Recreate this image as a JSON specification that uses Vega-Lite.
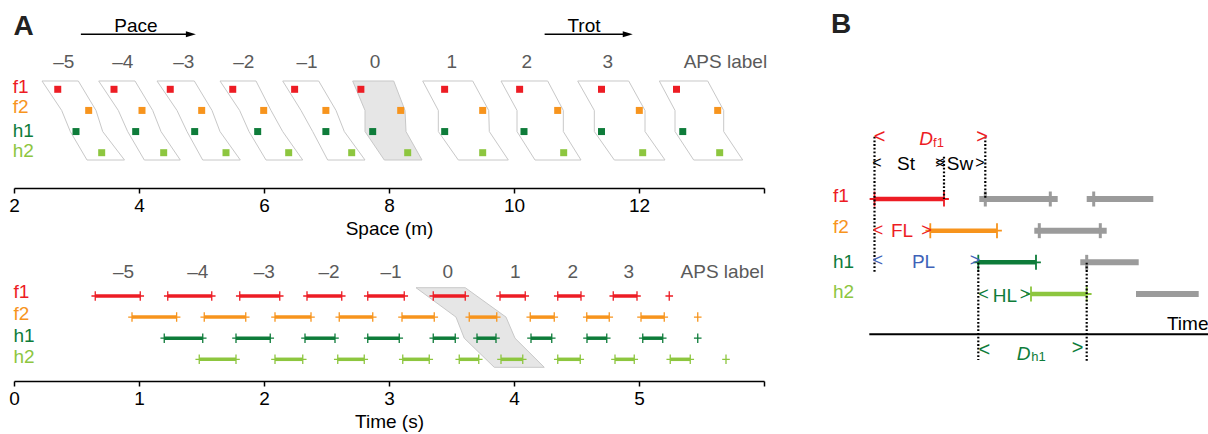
{
"$schema": "https://vega.github.io/schema/vega-lite/v6.json",
"padding": {"left": 8, "top": 0, "right": 0, "bottom": 0},
"background": "white",
"config": {"view": {"stroke": null}, "font": "Liberation Sans"},
"datasets": {
"spacePoly": [
{"stride":-5,"y":0.607,"x":2.448,"x2":3.029},{"stride":-5,"y":2,"x":2.763,"x2":3.312},{"stride":-5,"y":3,"x":2.901,"x2":3.419},{"stride":-5,"y":4.346,"x":3.168,"x2":3.768},
{"stride":-4,"y":0.607,"x":3.355,"x2":3.936},{"stride":-4,"y":2,"x":3.669,"x2":4.219},{"stride":-4,"y":3,"x":3.819,"x2":4.352},{"stride":-4,"y":4.346,"x":4.085,"x2":4.661},
{"stride":-3,"y":0.607,"x":4.288,"x2":4.885},{"stride":-3,"y":2,"x":4.608,"x2":5.168},{"stride":-3,"y":3,"x":4.768,"x2":5.296},{"stride":-3,"y":4.346,"x":5.019,"x2":5.621},
{"stride":-2,"y":0.607,"x":5.296,"x2":5.872},{"stride":-2,"y":2,"x":5.61,"x2":6.112},{"stride":-2,"y":3,"x":5.76,"x2":6.299},{"stride":-2,"y":4.346,"x":6.032,"x2":6.619},
{"stride":-1,"y":0.607,"x":6.299,"x2":6.875},{"stride":-1,"y":2,"x":6.592,"x2":7.152},{"stride":-1,"y":3,"x":6.779,"x2":7.285},{"stride":-1,"y":4.346,"x":7.019,"x2":7.616},
{"stride":0,"y":0.607,"x":7.419,"x2":8.075},{"stride":0,"y":2,"x":7.616,"x2":8.256},{"stride":0,"y":3,"x":7.616,"x2":8.272},{"stride":0,"y":4.346,"x":7.925,"x2":8.528},
{"stride":1,"y":0.607,"x":8.539,"x2":9.339},{"stride":1,"y":2,"x":8.789,"x2":9.595},{"stride":1,"y":3,"x":8.789,"x2":9.605},{"stride":1,"y":4.346,"x":9.109,"x2":9.909},
{"stride":2,"y":0.607,"x":9.792,"x2":10.539},{"stride":2,"y":2,"x":10.048,"x2":10.789},{"stride":2,"y":3,"x":10.048,"x2":10.789},{"stride":2,"y":4.346,"x":10.336,"x2":11.072},
{"stride":3,"y":0.607,"x":11.019,"x2":11.835},{"stride":3,"y":2,"x":11.285,"x2":12.096},{"stride":3,"y":3,"x":11.285,"x2":12.096},{"stride":3,"y":4.346,"x":11.605,"x2":12.416},
{"stride":4,"y":0.607,"x":12.325,"x2":13.099},{"stride":4,"y":2,"x":12.576,"x2":13.355},{"stride":4,"y":3,"x":12.576,"x2":13.355},{"stride":4,"y":4.346,"x":12.875,"x2":13.659}
],
"spaceSq": [
{"limb":"f1","y":1,"x":2.70},{"limb":"f1","y":1,"x":3.60},{"limb":"f1","y":1,"x":4.50},{"limb":"f1","y":1,"x":5.50},{"limb":"f1","y":1,"x":6.49},{"limb":"f1","y":1,"x":7.55},{"limb":"f1","y":1,"x":8.89},{"limb":"f1","y":1,"x":10.09},{"limb":"f1","y":1,"x":11.40},{"limb":"f1","y":1,"x":12.60},
{"limb":"f2","y":2,"x":3.195},{"limb":"f2","y":2,"x":4.048},{"limb":"f2","y":2,"x":5.003},{"limb":"f2","y":2,"x":5.995},{"limb":"f2","y":2,"x":6.99},{"limb":"f2","y":2,"x":8.187},{"limb":"f2","y":2,"x":9.499},{"limb":"f2","y":2,"x":10.699},{"limb":"f2","y":2,"x":12.005},{"limb":"f2","y":2,"x":13.259},
{"limb":"h1","y":3,"x":2.992},{"limb":"h1","y":3,"x":3.947},{"limb":"h1","y":3,"x":4.891},{"limb":"h1","y":3,"x":5.899},{"limb":"h1","y":3,"x":6.99},{"limb":"h1","y":3,"x":7.739},{"limb":"h1","y":3,"x":8.891},{"limb":"h1","y":3,"x":10.16},{"limb":"h1","y":3,"x":11.40},{"limb":"h1","y":3,"x":12.70},
{"limb":"h2","y":4,"x":3.403},{"limb":"h2","y":4,"x":4.395},{"limb":"h2","y":4,"x":5.392},{"limb":"h2","y":4,"x":6.395},{"limb":"h2","y":4,"x":7.403},{"limb":"h2","y":4,"x":8.299},{"limb":"h2","y":4,"x":9.499},{"limb":"h2","y":4,"x":10.795},{"limb":"h2","y":4,"x":12.059},{"limb":"h2","y":4,"x":13.291}
],
"topText": [
{"kind":"aps","label":"–5","x":2.795,"y":0.006},{"kind":"aps","label":"–4","x":3.739,"y":0.006},{"kind":"aps","label":"–3","x":4.715,"y":0.006},{"kind":"aps","label":"–2","x":5.675,"y":0.006},{"kind":"aps","label":"–1","x":6.688,"y":0.006},{"kind":"aps","label":"0","x":7.776,"y":0.006},{"kind":"aps","label":"1","x":9.003,"y":0.006},{"kind":"aps","label":"2","x":10.203,"y":0.006},{"kind":"aps","label":"3","x":11.499,"y":0.006},
{"kind":"apsTitle","label":"APS label","x":14.05,"y":0.006},
{"kind":"gait","label":"Pace","x":3.952,"y":-1.712},{"kind":"gait","label":"Trot","x":11.12,"y":-1.712},
{"kind":"panel","label":"A","x":1.99,"y":-1.57},
{"kind":"limb","limb":"f1","label":"f1","x":1.98,"y":1.19},{"kind":"limb","limb":"f2","label":"f2","x":1.98,"y":2.136},{"kind":"limb","limb":"h1","label":"h1","x":1.98,"y":3.243},{"kind":"limb","limb":"h2","label":"h2","x":1.98,"y":4.19}
],
"arrows": [
{"part":"shaft","x":3.07,"x2":4.83,"y":-1.603},{"part":"shaft","x":10.49,"x2":11.82,"y":-1.603},
{"part":"head","x":4.83,"y":-1.603},{"part":"head","x":11.82,"y":-1.603}
],
"timePoly": [
{"y":0.607,"x":3.216,"x2":3.61},{"y":2,"x":3.536,"x2":3.936},{"y":3,"x":3.602,"x2":4.008},{"y":4.379,"x":3.842,"x2":4.242}
],
"gait": [
{"limb":"f1","y":1,"x":0.650,"x2":1.010},{"limb":"f1","y":1,"x":1.230,"x2":1.582},{"limb":"f1","y":1,"x":1.806,"x2":2.126},{"limb":"f1","y":1,"x":2.344,"x2":2.622},{"limb":"f1","y":1,"x":2.830,"x2":3.122},{"limb":"f1","y":1,"x":3.354,"x2":3.610},{"limb":"f1","y":1,"x":3.888,"x2":4.090},{"limb":"f1","y":1,"x":4.350,"x2":4.536},{"limb":"f1","y":1,"x":4.794,"x2":4.984},{"limb":"f1","y":1,"x":5.242,"x2":null},
{"limb":"f2","y":2,"x":0.944,"x2":1.301},{"limb":"f2","y":2,"x":1.522,"x2":1.854},{"limb":"f2","y":2,"x":2.088,"x2":2.376},{"limb":"f2","y":2,"x":2.602,"x2":2.870},{"limb":"f2","y":2,"x":3.104,"x2":3.362},{"limb":"f2","y":2,"x":3.642,"x2":3.862},{"limb":"f2","y":2,"x":4.130,"x2":4.322},{"limb":"f2","y":2,"x":4.582,"x2":4.762},{"limb":"f2","y":2,"x":5.016,"x2":5.202},{"limb":"f2","y":2,"x":5.470,"x2":null},
{"limb":"h1","y":3,"x":1.202,"x2":1.510},{"limb":"h1","y":3,"x":1.776,"x2":2.050},{"limb":"h1","y":3,"x":2.328,"x2":2.568},{"limb":"h1","y":3,"x":2.830,"x2":3.082},{"limb":"h1","y":3,"x":3.354,"x2":3.530},{"limb":"h1","y":3,"x":3.704,"x2":3.856},{"limb":"h1","y":3,"x":4.136,"x2":4.302},{"limb":"h1","y":3,"x":4.584,"x2":4.742},{"limb":"h1","y":3,"x":5.030,"x2":5.190},{"limb":"h1","y":3,"x":5.470,"x2":null},
{"limb":"h2","y":4,"x":1.482,"x2":1.776},{"limb":"h2","y":4,"x":2.088,"x2":2.310},{"limb":"h2","y":4,"x":2.590,"x2":2.802},{"limb":"h2","y":4,"x":3.110,"x2":3.322},{"limb":"h2","y":4,"x":3.562,"x2":3.718},{"limb":"h2","y":4,"x":3.896,"x2":4.070},{"limb":"h2","y":4,"x":4.350,"x2":4.530},{"limb":"h2","y":4,"x":4.808,"x2":4.962},{"limb":"h2","y":4,"x":5.250,"x2":5.410},{"limb":"h2","y":4,"x":5.696,"x2":null}
],
"botText": [
{"kind":"aps","label":"–5","x":0.876,"y":0.161},{"kind":"aps","label":"–4","x":1.47,"y":0.161},{"kind":"aps","label":"–3","x":2.002,"y":0.161},{"kind":"aps","label":"–2","x":2.52,"y":0.161},{"kind":"aps","label":"–1","x":3.016,"y":0.161},{"kind":"aps","label":"0","x":3.47,"y":0.161},{"kind":"aps","label":"1","x":4.01,"y":0.161},{"kind":"aps","label":"2","x":4.47,"y":0.161},{"kind":"aps","label":"3","x":4.918,"y":0.161},
{"kind":"apsTitle","label":"APS label","x":6.0,"y":0.161},
{"kind":"limb","limb":"f1","label":"f1","x":-0.005,"y":1.109},{"kind":"limb","limb":"f2","label":"f2","x":-0.005,"y":2.157},{"kind":"limb","limb":"h1","label":"h1","x":-0.005,"y":3.161},{"kind":"limb","limb":"h2","label":"h2","x":-0.005,"y":4.19}
],
"bBars": [
{"limb":"f1","y":1,"x":0.055,"x2":0.75},{"limb":"f2","y":2,"x":0.613,"x2":1.28},{"limb":"h1","y":3,"x":1.093,"x2":1.67},{"limb":"h2","y":4,"x":1.62,"x2":2.177}
],
"bGray": [
{"y":1,"x":1.103,"x2":1.887},{"y":1,"x":2.177,"x2":2.843},{"y":2,"x":1.653,"x2":2.377},{"y":3,"x":2.113,"x2":2.697},{"y":4,"x":2.67,"x2":3.297}
],
"bGrayTicks": [
{"y":1,"x":1.163},{"y":1,"x":1.813},{"y":1,"x":2.247},{"y":2,"x":1.703},{"y":2,"x":2.313},{"y":3,"x":2.177}
],
"bDots": [
{"x":0.055,"y":-0.967,"y2":3.296},{"x":0.75,"y":-0.336,"y2":1},{"x":1.163,"y":-0.967,"y2":1},{"x":1.093,"y":3.011,"y2":6.084},{"x":2.177,"y":3.011,"y2":6.137}
],
"bAxis": [{"x":0.003,"x2":3.4,"y":5.272}],
"bText": [
{"kind":"panel","label":"B","x":-0.38,"y":-4.232},
{"kind":"limb","limb":"f1","label":"f1","x":-0.36,"y":1.085},{"kind":"limb","limb":"f2","label":"f2","x":-0.36,"y":2.07},{"kind":"limb","limb":"h1","label":"h1","x":-0.36,"y":3.18},{"kind":"limb","limb":"h2","label":"h2","x":-0.36,"y":4.13},
{"kind":"bigbr","grp":"Df1","label":"<","x":0.107,"y":-0.77},{"kind":"bigbr","grp":"Df1","label":">","x":1.132,"y":-0.77},{"kind":"D","grp":"Df1","label":"D","x":0.57,"y":-0.705},{"kind":"sub","grp":"Df1","label":"f1","x":0.695,"y":-0.658},
{"kind":"smallbr","grp":"StSw","label":"<","x":0.08,"y":0.03},{"kind":"word","grp":"StSw","label":"St","x":0.37,"y":0.084},{"kind":"smallbr","grp":"StSw","label":">","x":0.71,"y":0.03},{"kind":"smallbr","grp":"StSw","label":"<","x":0.71,"y":0.03},{"kind":"word","grp":"StSw","label":"Sw","x":0.91,"y":0.084},{"kind":"smallbr","grp":"StSw","label":">","x":1.11,"y":0.03},
{"kind":"br","grp":"FL","label":"<","x":0.09,"y":2.17},{"kind":"word","grp":"FL","label":"FL","x":0.33,"y":2.19},{"kind":"br","grp":"FL","label":">","x":0.575,"y":2.17},
{"kind":"br","grp":"PL","label":"<","x":0.087,"y":3.13},{"kind":"word","grp":"PL","label":"PL","x":0.545,"y":3.19},{"kind":"br","grp":"PL","label":">","x":1.06,"y":3.13},
{"kind":"br","grp":"HL","label":"<","x":1.145,"y":4.18},{"kind":"word","grp":"HL","label":"HL","x":1.36,"y":4.243},{"kind":"br","grp":"HL","label":">","x":1.56,"y":4.18},
{"kind":"bigbr","grp":"Dh1","label":"<","x":1.153,"y":5.945},{"kind":"bigbr","grp":"Dh1","label":">","x":2.087,"y":5.904},{"kind":"D","grp":"Dh1","label":"D","x":1.545,"y":6.084},{"kind":"sub","grp":"Dh1","label":"h1","x":1.695,"y":6.115},
{"kind":"time","label":"Time","x":3.395,"y":5.137}
]
},
"spacing": 53,
"hconcat": [
{"spacing": 12,
"vconcat": [
{"width": 750, "height": 188,
"encoding": {
"x": {"field":"x","type":"quantitative","scale":{"domain":[2,14],"nice":false,"zero":false},
"axis":{"values":[2,4,6,8,10,12,14],"labelExpr":"datum.value == 14 ? '' : datum.label","title":"Space (m)","grid":false,"domainColor":"black","domainWidth":1.5,"tickColor":"black","tickWidth":1.5,"tickSize":5,"labelFontSize":19,"labelColor":"black","labelFont":"Liberation Sans","labelPadding":3,"labelFlush":false,"titleFontSize":19,"titleFontWeight":"normal","titleColor":"black","titleFont":"Liberation Sans","titlePadding":4}},
"y": {"field":"y","type":"quantitative","scale":{"domain":[-3.226,5.671],"nice":false,"zero":false,"reverse":true},"axis":null}
},
"layer": [
{"data":{"name":"spacePoly"},"transform":[{"filter":"datum.stride != 0"}],"mark":{"type":"area","orient":"horizontal","fill":"white","stroke":"#c8c8c8","strokeWidth":1},"encoding":{"x2":{"field":"x2"},"detail":{"field":"stride","type":"nominal"}}},
{"data":{"name":"spacePoly"},"transform":[{"filter":"datum.stride == 0"}],"mark":{"type":"area","orient":"horizontal","fill":"#e6e6e6","stroke":"#c8c8c8","strokeWidth":1},"encoding":{"x2":{"field":"x2"}}},
{"data":{"name":"spaceSq"},"mark":{"type":"square","size":49,"opacity":1},"encoding":{"color":{"field":"limb","type":"nominal","scale":{"domain":["f1","f2","h1","h2"],"range":["#ed1c24","#f7941d","#0e7c3a","#8dc63f"]},"legend":null}}},
{"data":{"name":"topText"},"transform":[{"filter":"datum.kind == 'aps'"}],"mark":{"type":"text","fontSize":19,"fill":"#5a5a5a","align":"center","baseline":"alphabetic"},"encoding":{"text":{"field":"label"}}},
{"data":{"name":"topText"},"transform":[{"filter":"datum.kind == 'apsTitle'"}],"mark":{"type":"text","fontSize":19,"fill":"#5a5a5a","align":"right","baseline":"alphabetic"},"encoding":{"text":{"field":"label"}}},
{"data":{"name":"topText"},"transform":[{"filter":"datum.kind == 'gait'"}],"mark":{"type":"text","fontSize":19,"fill":"black","align":"center","baseline":"alphabetic"},"encoding":{"text":{"field":"label"}}},
{"data":{"name":"topText"},"transform":[{"filter":"datum.kind == 'panel'"}],"mark":{"type":"text","fontSize":28,"fontWeight":"bold","fill":"#222","align":"left","baseline":"alphabetic"},"encoding":{"text":{"field":"label"}}},
{"data":{"name":"topText"},"transform":[{"filter":"datum.kind == 'limb'"}],"mark":{"type":"text","fontSize":19,"align":"left","baseline":"alphabetic"},"encoding":{"text":{"field":"label"},"color":{"field":"limb","type":"nominal","scale":{"domain":["f1","f2","h1","h2"],"range":["#ed1c24","#f7941d","#0e7c3a","#8dc63f"]},"legend":null}}},
{"data":{"name":"arrows"},"transform":[{"filter":"datum.part == 'shaft'"}],"mark":{"type":"rule","color":"black","strokeWidth":1.5},"encoding":{"x2":{"field":"x2"}}},
{"data":{"name":"arrows"},"transform":[{"filter":"datum.part == 'head'"}],"mark":{"type":"point","shape":"M1,0L-1,-0.6L-1,0.6Z","size":100,"filled":true,"color":"black","opacity":1}}
]
},
{"width": 750, "height": 131,
"encoding": {
"x": {"field":"x","type":"quantitative","scale":{"domain":[0,6],"nice":false,"zero":false},
"axis":{"values":[0,1,2,3,4,5,6],"labelExpr":"datum.value == 6 ? '' : datum.label","title":"Time (s)","grid":false,"domainColor":"black","domainWidth":1.5,"tickColor":"black","tickWidth":1.5,"tickSize":5,"labelFontSize":19,"labelColor":"black","labelFont":"Liberation Sans","labelPadding":3,"labelFlush":false,"titleFontSize":19,"titleFontWeight":"normal","titleColor":"black","titleFont":"Liberation Sans","titlePadding":4}},
"y": {"field":"y","type":"quantitative","scale":{"domain":[-1.18,5.028],"nice":false,"zero":false,"reverse":true},"axis":null}
},
"layer": [
{"data":{"name":"timePoly"},"mark":{"type":"area","orient":"horizontal","fill":"#e6e6e6","stroke":"#c8c8c8","strokeWidth":1},"encoding":{"x2":{"field":"x2"}}},
{"data":{"name":"gait"},"transform":[{"filter":"datum.x2 != null"}],"mark":{"type":"rule","strokeWidth":3.5},"encoding":{"x2":{"field":"x2"},"color":{"field":"limb","type":"nominal","scale":{"domain":["f1","f2","h1","h2"],"range":["#ed1c24","#f7941d","#0e7c3a","#8dc63f"]},"legend":null}}},
{"data":{"name":"gait"},"transform":[{"fold":["x","x2"],"as":["end","x"]},{"filter":"datum.x != null"}],"mark":{"type":"point","shape":"M-0.8,0H0.8M0,-1V1","size":90,"strokeWidth":1.3,"filled":false,"opacity":1},"encoding":{"color":{"field":"limb","type":"nominal","scale":{"domain":["f1","f2","h1","h2"],"range":["#ed1c24","#f7941d","#0e7c3a","#8dc63f"]},"legend":null}}},
{"data":{"name":"botText"},"transform":[{"filter":"datum.kind == 'aps'"}],"mark":{"type":"text","fontSize":19,"fill":"#5a5a5a","align":"center","baseline":"alphabetic"},"encoding":{"text":{"field":"label"}}},
{"data":{"name":"botText"},"transform":[{"filter":"datum.kind == 'apsTitle'"}],"mark":{"type":"text","fontSize":19,"fill":"#5a5a5a","align":"right","baseline":"alphabetic"},"encoding":{"text":{"field":"label"}}},
{"data":{"name":"botText"},"transform":[{"filter":"datum.kind == 'limb'"}],"mark":{"type":"text","fontSize":19,"align":"left","baseline":"alphabetic"},"encoding":{"text":{"field":"label"},"color":{"field":"limb","type":"nominal","scale":{"domain":["f1","f2","h1","h2"],"range":["#ed1c24","#f7941d","#0e7c3a","#8dc63f"]},"legend":null}}}
]
}
]
},
{"width": 388, "height": 434,
"encoding": {
"x": {"field":"x","type":"quantitative","scale":{"domain":[-0.48,3.4],"nice":false,"zero":false},"axis":null},
"y": {"field":"y","type":"quantitative","scale":{"domain":[-5.284,8.42],"nice":false,"zero":false,"reverse":true},"axis":null}
},
"layer": [
{"data":{"name":"bGray"},"mark":{"type":"rule","color":"#9b9b9b","strokeWidth":6},"encoding":{"x2":{"field":"x2"}}},
{"data":{"name":"bGrayTicks"},"mark":{"type":"point","shape":"M0,-1V1","size":225,"strokeWidth":3,"color":"#9b9b9b","filled":false,"opacity":1}},
{"data":{"name":"bBars"},"mark":{"type":"rule","strokeWidth":4.5},"encoding":{"x2":{"field":"x2"},"color":{"field":"limb","type":"nominal","scale":{"domain":["f1","f2","h1","h2"],"range":["#ed1c24","#f7941d","#0e7c3a","#8dc63f"]},"legend":null}}},
{"data":{"name":"bBars"},"transform":[{"fold":["x","x2"],"as":["end","x"]}],"mark":{"type":"point","shape":"M-0.65,0H0.65M0,-1V1","size":225,"strokeWidth":1.8,"filled":false,"opacity":1},"encoding":{"color":{"field":"limb","type":"nominal","scale":{"domain":["f1","f2","h1","h2"],"range":["#ed1c24","#f7941d","#0e7c3a","#8dc63f"]},"legend":null}}},
{"data":{"name":"bAxis"},"mark":{"type":"rule","color":"black","strokeWidth":2},"encoding":{"x2":{"field":"x2"}}},
{"data":{"name":"bDots"},"mark":{"type":"rule","color":"black","strokeWidth":2.2,"strokeDash":[1.8,1.9]},"encoding":{"y2":{"field":"y2"}}},
{"data":{"name":"bText"},"transform":[{"filter":"datum.kind == 'panel'"}],"mark":{"type":"text","fontSize":28,"fontWeight":"bold","fill":"#222","align":"left","baseline":"alphabetic"},"encoding":{"text":{"field":"label"}}},
{"data":{"name":"bText"},"transform":[{"filter":"datum.kind == 'limb'"}],"mark":{"type":"text","fontSize":19,"align":"left","baseline":"alphabetic"},"encoding":{"text":{"field":"label"},"color":{"field":"limb","type":"nominal","scale":{"domain":["f1","f2","h1","h2"],"range":["#ed1c24","#f7941d","#0e7c3a","#8dc63f"]},"legend":null}}},
{"data":{"name":"bText"},"transform":[{"filter":"datum.kind == 'word'"}],"mark":{"type":"text","fontSize":19,"align":"center","baseline":"alphabetic"},"encoding":{"text":{"field":"label"},"fill":{"field":"grp","type":"nominal","scale":{"domain":["Df1","StSw","FL","PL","HL","Dh1"],"range":["#ed1c24","#000000","#ed1c24","#3f62b8","#0e7c3a","#0e7c3a"]},"legend":null}}},
{"data":{"name":"bText"},"transform":[{"filter":"datum.kind == 'br'"}],"mark":{"type":"text","fontSize":18,"align":"center","baseline":"alphabetic"},"encoding":{"text":{"field":"label"},"fill":{"field":"grp","type":"nominal","scale":{"domain":["Df1","StSw","FL","PL","HL","Dh1"],"range":["#ed1c24","#000000","#ed1c24","#3f62b8","#0e7c3a","#0e7c3a"]},"legend":null}}},
{"data":{"name":"bText"},"transform":[{"filter":"datum.kind == 'smallbr'"}],"mark":{"type":"text","fontSize":16,"align":"center","baseline":"alphabetic"},"encoding":{"text":{"field":"label"},"fill":{"field":"grp","type":"nominal","scale":{"domain":["Df1","StSw","FL","PL","HL","Dh1"],"range":["#ed1c24","#000000","#ed1c24","#3f62b8","#0e7c3a","#0e7c3a"]},"legend":null}}},
{"data":{"name":"bText"},"transform":[{"filter":"datum.kind == 'bigbr'"}],"mark":{"type":"text","fontSize":20,"align":"center","baseline":"alphabetic"},"encoding":{"text":{"field":"label"},"fill":{"field":"grp","type":"nominal","scale":{"domain":["Df1","StSw","FL","PL","HL","Dh1"],"range":["#ed1c24","#000000","#ed1c24","#3f62b8","#0e7c3a","#0e7c3a"]},"legend":null}}},
{"data":{"name":"bText"},"transform":[{"filter":"datum.kind == 'D'"}],"mark":{"type":"text","fontSize":19,"fontStyle":"italic","align":"center","baseline":"alphabetic"},"encoding":{"text":{"field":"label"},"fill":{"field":"grp","type":"nominal","scale":{"domain":["Df1","StSw","FL","PL","HL","Dh1"],"range":["#ed1c24","#000000","#ed1c24","#3f62b8","#0e7c3a","#0e7c3a"]},"legend":null}}},
{"data":{"name":"bText"},"transform":[{"filter":"datum.kind == 'sub'"}],"mark":{"type":"text","fontSize":13,"align":"center","baseline":"alphabetic"},"encoding":{"text":{"field":"label"},"fill":{"field":"grp","type":"nominal","scale":{"domain":["Df1","StSw","FL","PL","HL","Dh1"],"range":["#ed1c24","#000000","#ed1c24","#3f62b8","#0e7c3a","#0e7c3a"]},"legend":null}}},
{"data":{"name":"bText"},"transform":[{"filter":"datum.kind == 'time'"}],"mark":{"type":"text","fontSize":19,"fill":"black","align":"right","baseline":"alphabetic"},"encoding":{"text":{"field":"label"}}}
]
}
]
}
